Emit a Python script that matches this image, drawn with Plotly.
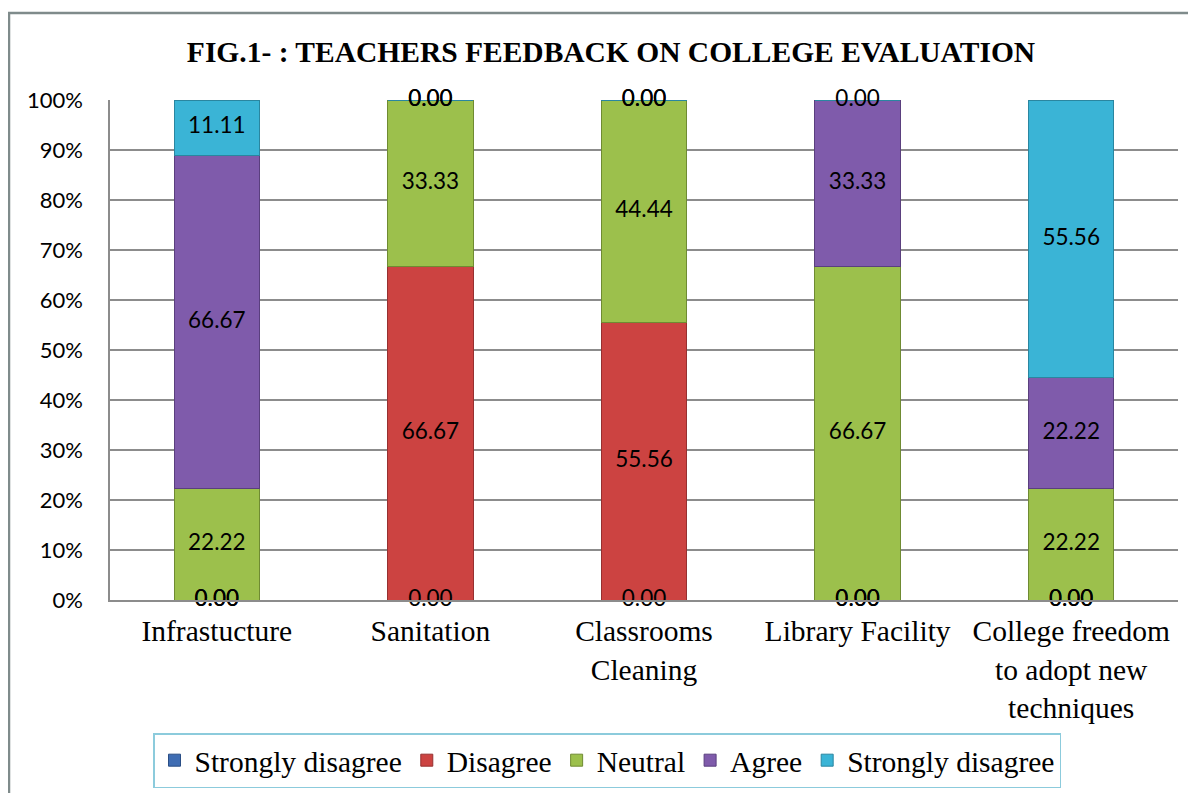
import plotly.graph_objects as go

categories = ["Infrastucture", "Sanitation", "Classrooms Cleaning", "Library Facility",
              "College freedom to adopt new techniques"]
tick_labels = ["Infrastucture", "Sanitation", "Classrooms<br>Cleaning", "Library Facility",
               "College freedom<br>to adopt new<br>techniques"]

series_names = ["Strongly disagree", "Disagree", "Neutral", "Agree", "Strongly disagree"]
strongly_disagree = [0.00, 0.00, 0.00, 0.00, 0.00]
disagree = [0.00, 66.67, 55.56, 0.00, 0.00]
neutral = [22.22, 33.33, 44.44, 66.67, 22.22]
agree = [66.67, 0.00, 0.00, 33.33, 22.22]
strongly_disagree_2 = [11.11, 0.00, 0.00, 0.00, 55.56]

y_ticks = [0, 10, 20, 30, 40, 50, 60, 70, 80, 90, 100]
y_tick_labels = ["0%", "10%", "20%", "30%", "40%", "50%", "60%", "70%", "80%", "90%", "100%"]

series_values = [strongly_disagree, disagree, neutral, agree, strongly_disagree_2]
colors = ["#3F6DB3", "#CC4341", "#9CC04C", "#7F5BAB", "#3AB4D6"]
line_colors = ["#2A4E85", "#963030", "#6F8B32", "#5A3F7E", "#2A86A0"]

# the page body adds an 8px margin at top/left, so the figure is 8px smaller
# and reference pixel positions are shifted by OFF
OFF = 8
W, H = 1196 - OFF, 793 - OFF
L, R, T, B = 110 - OFF, 18, 100 - OFF, 193
pw = W - L - R
ph = H - T - B

fig = go.Figure()
for name, vals, c, lc in zip(series_names, series_values, colors, line_colors):
    fig.add_trace(go.Bar(
        x=categories, y=vals, name=name,
        marker=dict(color=c, line=dict(color=lc, width=1)),
        width=0.4, hoverinfo="skip",
    ))

# data labels centred on each segment (including zero-height segments)
base = [0.0] * len(categories)
for vals in series_values:
    mids = [b + v / 2 for b, v in zip(base, vals)]
    fig.add_trace(go.Scatter(
        x=categories, y=mids, mode="text",
        text=[f"{v:.2f}" for v in vals],
        textposition="middle center",
        textfont=dict(family="Lato", size=22.5, color="#000000"),
        showlegend=False, hoverinfo="skip", cliponaxis=False,
    ))
    base = [b + v for b, v in zip(base, vals)]

def px_x(px):
    return (px - OFF - L) / pw

def px_y(py):
    return (H - B - (py - OFF)) / ph

fig.add_shape(type="rect", xref="paper", yref="paper",
              x0=px_x(9), x1=px_x(1215), y0=px_y(820), y1=px_y(13),
              line=dict(color="#7F8B8B", width=2.5), fillcolor="rgba(0,0,0,0)",
              layer="below")

serif = "Liberation Serif"
fig.update_layout(
    width=W, height=H,
    margin=dict(l=L, r=R, t=T, b=B, autoexpand=False),
    barmode="stack",
    paper_bgcolor="white", plot_bgcolor="white",
    title=dict(text="<b>FIG.1- : TEACHERS FEEDBACK ON COLLEGE EVALUATION</b>",
               font=dict(family=serif, size=29.5, color="#000000"),
               xref="container", x=(611 - OFF) / W, xanchor="center",
               yref="container", y=(H - (52 - OFF)) / H, yanchor="middle"),
    xaxis=dict(tickmode="array", tickvals=categories, ticktext=tick_labels,
               tickfont=dict(family=serif, size=29.5, color="#000000"),
               ticklabelstandoff=4,
               showline=True, linecolor="#8C8C8C", linewidth=1.5, ticks="",
               showgrid=False, automargin=False),
    yaxis=dict(range=[0, 100], tickmode="array", tickvals=y_ticks, ticktext=y_tick_labels,
               tickfont=dict(family="Lato", size=22, color="#000000"),
               ticklabelstandoff=21,
               showgrid=True, gridcolor="#8C8C8C", gridwidth=1.5,
               showline=True, linecolor="#8C8C8C", linewidth=1.5,
               ticks="", zeroline=False, automargin=False),
    legend=dict(orientation="h", x=px_x(607), xanchor="center",
                y=px_y(733), yanchor="top", traceorder="normal",
                font=dict(family=serif, size=29.5, color="#000000"),
                bordercolor="#8CCBDC", borderwidth=1.5, bgcolor="white"),
    showlegend=True,
)

fig.write_html("out.html")
